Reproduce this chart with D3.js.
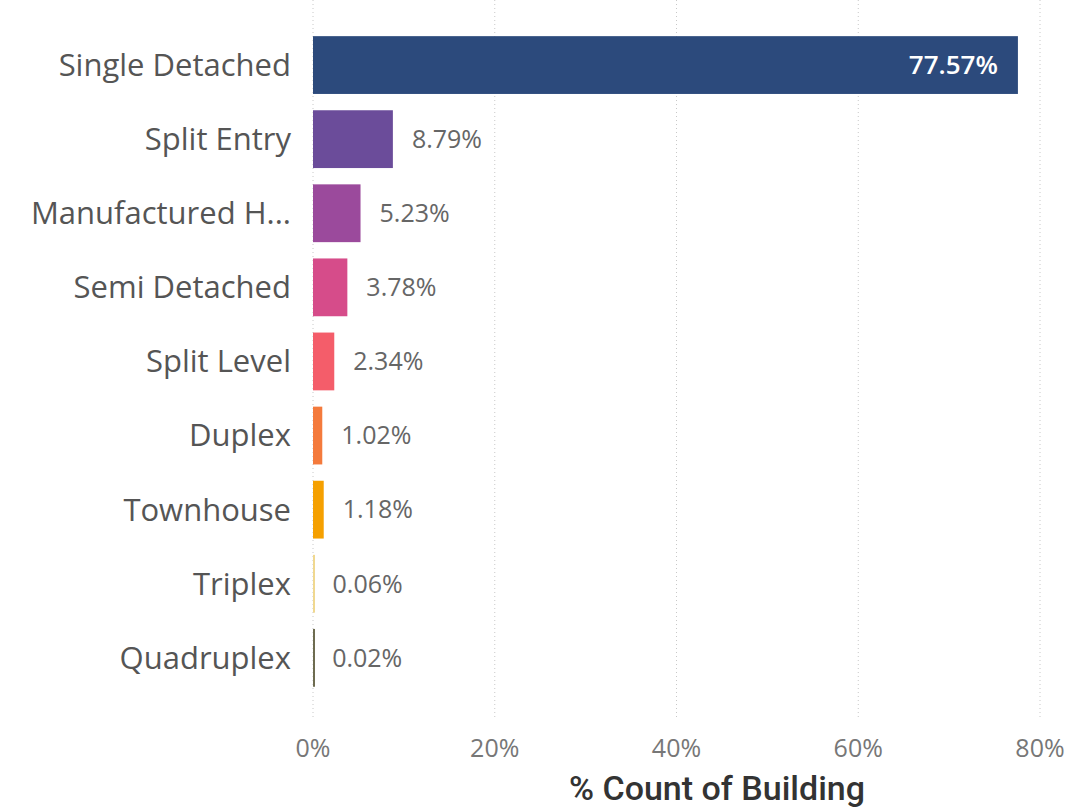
<!DOCTYPE html>
<html>
<head>
<meta charset="utf-8">
<script src="https://cdn.jsdelivr.net/npm/d3@7"></script>
<style>
  body { margin: 0; background: #fff; }
  svg text { font-family: "Open Sans", "Noto Sans", sans-serif; }
</style>
</head>
<body>
<div id="chart"></div>
<script>
// building types, % count of building
const categories = ["Single Detached", "Split Entry", "Manufactured H...", "Semi Detached",
  "Split Level", "Duplex", "Townhouse", "Triplex", "Quadruplex"];
const values = [77.57, 8.79, 5.23, 3.78, 2.34, 1.02, 1.18, 0.06, 0.02];
const colors = ["#2c4a7c", "#6b4c9a", "#9b4a9c", "#d64c8a", "#f45d6a", "#f47a3c",
  "#f5a000", "#f0d890", "#6e6c50"];
const ticks = [0, 20, 40, 60, 80];

const width = 1088, height = 807;
const margin = { left: 313, right: 48, top: 28, bottom: 100 };

const svg = d3.select("#chart").append("svg")
  .attr("width", width)
  .attr("height", height);

const x = d3.scaleLinear()
  .domain([0, 80])
  .range([margin.left, width - margin.right]);

const y = d3.scaleBand()
  .domain(categories)
  .range([margin.top, margin.top + 74.1 * categories.length])
  .paddingInner(0.22)
  .paddingOuter(0.11);

// dotted gridlines
svg.append("g").selectAll("line")
  .data(ticks)
  .enter().append("line")
  .attr("x1", d => x(d))
  .attr("x2", d => x(d))
  .attr("y1", 0)
  .attr("y2", 718)
  .attr("stroke", "#c8c8c8")
  .attr("stroke-width", 1)
  .attr("stroke-dasharray", "1,3");

// bars
svg.append("g").selectAll("rect")
  .data(values)
  .enter().append("rect")
  .attr("x", x(0))
  .attr("y", (d, i) => y(categories[i]))
  .attr("width", d => Math.max(2, x(d) - x(0)))
  .attr("height", y.bandwidth())
  .attr("fill", (d, i) => colors[i]);

// category labels
svg.append("g").selectAll("text")
  .data(categories)
  .enter().append("text")
  .attr("x", 291)
  .attr("y", d => y(d) + y.bandwidth() / 2)
  .attr("dy", "0.35em")
  .attr("text-anchor", "end")
  .attr("fill", "#555")
  .style("font-size", "31px")
  .text(d => d);

// value labels
svg.append("g").selectAll("text")
  .data(values)
  .enter().append("text")
  .attr("x", d => d > 50 ? x(d) - 20 : x(d) + 19)
  .attr("y", (d, i) => y(categories[i]) + y.bandwidth() / 2)
  .attr("dy", "0.35em")
  .attr("text-anchor", d => d > 50 ? "end" : "start")
  .attr("fill", d => d > 50 ? "#fff" : "#666")
  .style("font-weight", d => d > 50 ? "600" : "400")
  .style("font-size", d => d > 50 ? "26px" : "25px")
  .text(d => d.toFixed(2) + "%");

// x axis tick labels
svg.append("g").selectAll("text")
  .data(ticks)
  .enter().append("text")
  .attr("x", d => x(d))
  .attr("y", 757)
  .attr("text-anchor", "middle")
  .attr("fill", "#777")
  .style("font-size", "25px")
  .text(d => d + "%");

// axis title
svg.append("text")
  .attr("x", 717)
  .attr("y", 800)
  .attr("text-anchor", "middle")
  .attr("fill", "#333")
  .style("font-family", "Roboto, sans-serif")
  .style("font-weight", "500")
  .style("font-size", "34px")
  .text("% Count of Building");
</script>
</body>
</html>
